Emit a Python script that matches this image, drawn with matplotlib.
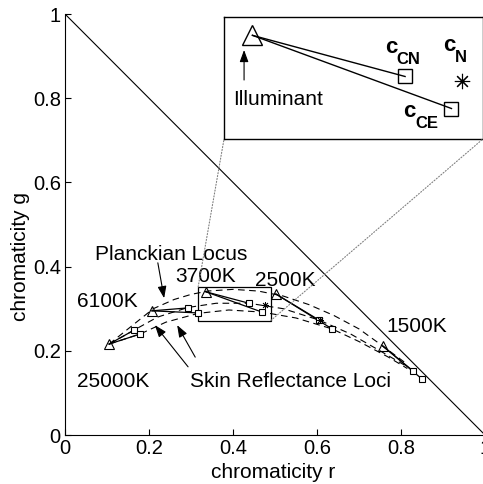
# libraries

import matplotlib
matplotlib.use('Agg')
import matplotlib.pyplot as plt
from matplotlib.patches import Rectangle, ConnectionPatch

plt.rcParams['font.family'] = ['Liberation Sans', 'DejaVu Sans']

# data

temps = ['25000K', '6100K', '3700K', '2500K', '1500K']
illum_r = [0.105, 0.207, 0.336, 0.502, 0.757]
illum_g = [0.216, 0.295, 0.340, 0.335, 0.211]
cn_r = [0.164, 0.293, 0.438, 0.605, 0.829]   # c_CN
cn_g = [0.249, 0.302, 0.313, 0.273, 0.152]
ce_r = [0.179, 0.317, 0.469, 0.636, 0.850]   # c_CE
ce_g = [0.240, 0.290, 0.292, 0.252, 0.133]
n_r = [0.476, 0.606]                        # c_N (visible ones)
n_g = [0.310, 0.274]

# dashed loci
planck_r = [0.105, 0.15, 0.21, 0.26, 0.30, 0.34, 0.40, 0.46, 0.52, 0.58, 0.64, 0.70, 0.757, 0.815]
planck_g = [0.216, 0.252, 0.300, 0.322, 0.334, 0.342, 0.346, 0.342, 0.330, 0.310, 0.284, 0.252, 0.211, 0.168]
skin1_r = [0.105, 0.164, 0.22, 0.293, 0.36, 0.438, 0.52, 0.605, 0.68, 0.75, 0.81]
skin1_g = [0.216, 0.249, 0.280, 0.303, 0.313, 0.313, 0.300, 0.273, 0.240, 0.200, 0.165]
skin2_r = [0.105, 0.179, 0.24, 0.317, 0.39, 0.469, 0.55, 0.636, 0.70, 0.77, 0.815]
skin2_g = [0.216, 0.240, 0.268, 0.289, 0.297, 0.292, 0.278, 0.252, 0.222, 0.185, 0.158]

ticks = [0, 0.2, 0.4, 0.6, 0.8, 1]
tick_labels = ['0', '0.2', '0.4', '0.6', '0.8', '1']

# zoom window (3700K)
zoom_r = (0.317, 0.490)
zoom_g = (0.272, 0.352)

fig = plt.figure(figsize=(4.83, 4.84), dpi=100)
ax = fig.add_axes([0.1346, 0.1012, 0.8696, 0.8698])

ax.plot([0, 1], [1, 0], color='k', lw=0.8)

dash = (0, (6, 4))
ax.plot(planck_r, planck_g, color='k', lw=0.8, linestyle=dash)
ax.plot(skin1_r, skin1_g, color='k', lw=0.8, linestyle=dash)
ax.plot(skin2_r, skin2_g, color='k', lw=0.8, linestyle=dash)

# illuminant -> estimates
for i in range(len(temps)):
    ax.plot([illum_r[i], cn_r[i]], [illum_g[i], cn_g[i]], color='k', lw=0.9)
    ax.plot([illum_r[i], ce_r[i]], [illum_g[i], ce_g[i]], color='k', lw=0.9)

ax.plot(illum_r, illum_g, '^', ms=7.5, mfc='none', mec='k', mew=0.8, ls='none')
ax.plot(cn_r, cn_g, 's', ms=5, mfc='white', mec='k', mew=0.8, ls='none')
ax.plot(ce_r, ce_g, 's', ms=5, mfc='white', mec='k', mew=0.8, ls='none')
ax.plot(n_r, n_g, marker=(8, 2, 0), ms=5, color='k', mew=0.6, ls='none')

ax.add_patch(Rectangle((zoom_r[0], zoom_g[0]), zoom_r[1] - zoom_r[0], zoom_g[1] - zoom_g[0],
                       fill=False, ec='k', lw=0.9))

# labels for temperatures and loci
fs = 15
ax.text(0.071, 0.416, 'Planckian Locus', fontsize=fs, ha='left', va='baseline')
ax.text(0.262, 0.363, '3700K', fontsize=fs, ha='left', va='baseline')
ax.text(0.029, 0.304, '6100K', fontsize=fs, ha='left', va='baseline')
ax.text(0.029, 0.114, '25000K', fontsize=fs, ha='left', va='baseline')
ax.text(0.298, 0.114, 'Skin Reflectance Loci', fontsize=fs, ha='left', va='baseline')
ax.text(0.452, 0.354, '2500K', fontsize=fs, ha='left', va='baseline')
ax.text(0.764, 0.245, '1500K', fontsize=fs, ha='left', va='baseline')

arr = dict(arrowstyle='-|>,head_length=0.6,head_width=0.22', color='k', lw=0.8,
           mutation_scale=12, shrinkA=0, shrinkB=0)
ax.annotate('', xy=(0.236, 0.325), xytext=(0.221, 0.409), arrowprops=arr)
ax.annotate('', xy=(0.214, 0.261), xytext=(0.293, 0.162), arrowprops=arr)
ax.annotate('', xy=(0.267, 0.261), xytext=(0.310, 0.185), arrowprops=arr)

ax.set_xlim(0, 1)
ax.set_ylim(0, 1)
ax.set_xticks(ticks)
ax.set_xticklabels(tick_labels)
ax.set_yticks(ticks)
ax.set_yticklabels(tick_labels)
ax.tick_params(direction='in', length=4, width=0.8, labelsize=14.5, pad=3)
ax.spines['top'].set_visible(False)
ax.spines['right'].set_visible(False)
ax.spines['left'].set_linewidth(0.8)
ax.spines['bottom'].set_linewidth(0.8)

ax.set_xlabel('chromaticity r', fontsize=fs)
ax.set_ylabel('chromaticity g', fontsize=fs)
ax.xaxis.set_label_coords(0.495, -0.088)
ax.yaxis.set_label_coords(-0.107, 0.425)
ax.xaxis.label.set_va('center')
ax.yaxis.label.set_va('center')

# inset with zoomed 3700K case
axins = fig.add_axes([0.4638, 0.7128, 0.536, 0.252])
k = 2
axins.plot([illum_r[k], cn_r[k]], [illum_g[k], cn_g[k]], color='k', lw=1)
axins.plot([illum_r[k], ce_r[k]], [illum_g[k], ce_g[k]], color='k', lw=1)
axins.plot(illum_r[k], illum_g[k], '^', ms=14, mfc='none', mec='k', mew=1)
axins.plot([cn_r[k], ce_r[k]], [cn_g[k], ce_g[k]], 's', ms=10, mfc='none', mec='k', mew=1, ls='none')
axins.plot(n_r[0], n_g[0], marker=(8, 2, 0), ms=11, color='k', mew=0.8)
axins.set_xlim(zoom_r)
axins.set_ylim(zoom_g)
axins.set_xticks([])
axins.set_yticks([])
for s in axins.spines.values():
    s.set_linewidth(1)

axins.text(0.323, 0.294, 'Illuminant', fontsize=fs, ha='left', va='baseline')
axins.annotate('', xy=(0.3304, 0.3304), xytext=(0.3304, 0.3107), arrowprops=arr)

# c with bold subscript drawn as two pieces
for cx, cy, sub in [(0.4245, 0.3284, 'CN'), (0.4633, 0.3300, 'N'), (0.4366, 0.2864, 'CE')]:
    axins.text(cx, cy, 'c', fontsize=16, fontweight='bold', ha='left', va='baseline')
    axins.annotate(sub, xy=(cx, cy), xytext=(8.6, -8.2), textcoords='offset points',
                   fontsize=12, fontweight='bold', ha='left', va='baseline')

# dotted connectors from the zoom box to the inset
for xa, xb in [((zoom_r[0], zoom_g[1]), (0, 0)), ((zoom_r[1], zoom_g[0]), (1, 0))]:
    con = ConnectionPatch(xyA=xa, coordsA=ax.transData, xyB=xb, coordsB=axins.transAxes,
                          linestyle=':', color='gray', lw=0.8)
    fig.add_artist(con)

fig.savefig('out.png', dpi=100)
